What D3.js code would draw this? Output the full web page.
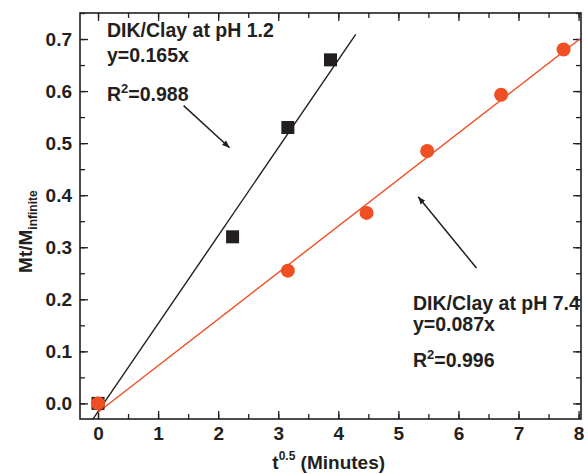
<!DOCTYPE html>
<meta charset="utf-8">
<script src="https://cdn.jsdelivr.net/npm/d3@7"></script>
<style>
    body { margin: 0; background: #fff; }
    text { font-family: "Liberation Sans", Arial, sans-serif; font-weight: bold; fill: #231f20; }
</style>
<div id="my_dataviz"></div>
<script>
    // data
    let acidX = [0, 2.24, 3.16, 3.87];
    let acidY = [0, 0.32, 0.53, 0.66];
    let neutralX = [0, 3.16, 4.47, 5.48, 6.71, 7.75];
    let neutralY = [0, 0.255, 0.366, 0.485, 0.593, 0.68];
    // fitted lines as drawn: [x start, x end], slope, intercept
    let acidFit = {x: [-0.085, 4.29], slope: 0.169, icpt: -0.016};
    let neutralFit = {x: [0.0, 8.02], slope: 0.0894, icpt: -0.017};
    let xTicks = [0, 1, 2, 3, 4, 5, 6, 7, 8];
    let yTicks = [0, 0.1, 0.2, 0.3, 0.4, 0.5, 0.6, 0.7];

    let margin = {top: 13, right: 7, bottom: 55, left: 80},
        width = 588 - margin.left - margin.right,
        height = 474 - margin.top - margin.bottom;

    let svg = d3.select("#my_dataviz").append("svg")
        .attr("width", 588)
        .attr("height", 474)
    ;

    let g = svg.append("g")
        .attr("transform", `translate(${margin.left},${margin.top})`)
    ;

    let xScale = d3.scaleLinear().domain([-0.3, 8.04]).range([0, width]);
    let yScale = d3.scaleLinear().domain([-0.03, 0.75]).range([height, 0]);

    const black = "#231f20", red = "#f04e23";

    // ticks, inward on all four sides
    const axisStyle = (sel) => {
        sel.select(".domain").remove();
        sel.selectAll("line").attr("stroke", black).attr("stroke-width", 1.3);
        sel.selectAll("text").style("font-size", "19px");
    };
    const xMinor = d3.range(0, 8.01, 0.5);
    const yMinor = d3.range(0, 0.751, 0.05);

    g.append("g").attr("transform", `translate(0,${height})`)
        .call(d3.axisBottom(xScale).tickValues(xMinor).tickSize(-5).tickFormat(""))
        .call(axisStyle);
    g.append("g").attr("transform", `translate(0,${height})`)
        .call(d3.axisBottom(xScale).tickValues(xTicks).tickSize(-8).tickPadding(8).tickFormat(d3.format("d")))
        .call(axisStyle);
    g.append("g")
        .call(d3.axisTop(xScale).tickValues(xMinor).tickSize(-5).tickFormat(""))
        .call(axisStyle);
    g.append("g")
        .call(d3.axisTop(xScale).tickValues(xTicks).tickSize(-8).tickFormat(""))
        .call(axisStyle);

    g.append("g")
        .call(d3.axisLeft(yScale).tickValues(yMinor).tickSize(-5).tickFormat(""))
        .call(axisStyle);
    g.append("g")
        .call(d3.axisLeft(yScale).tickValues(yTicks).tickSize(-8).tickPadding(8).tickFormat(d3.format(".1f")))
        .call(axisStyle);
    g.append("g").attr("transform", `translate(${width},0)`)
        .call(d3.axisRight(yScale).tickValues(yMinor).tickSize(-5).tickFormat(""))
        .call(axisStyle);
    g.append("g").attr("transform", `translate(${width},0)`)
        .call(d3.axisRight(yScale).tickValues(yTicks).tickSize(-8).tickFormat(""))
        .call(axisStyle);

    g.append("rect")
        .attr("width", width).attr("height", height)
        .attr("fill", "none").attr("stroke", black).attr("stroke-width", 1.6);

    // fit lines
    const fitLine = (f, color) => {
        g.append("line")
            .attr("x1", xScale(f.x[0])).attr("y1", yScale(f.slope * f.x[0] + f.icpt))
            .attr("x2", xScale(f.x[1])).attr("y2", yScale(f.slope * f.x[1] + f.icpt))
            .attr("stroke", color).attr("stroke-width", 1.4);
    };
    fitLine(acidFit, black);
    fitLine(neutralFit, red);

    // markers
    g.selectAll(".sq")
        .data(d3.zip(acidX, acidY))
        .enter()
        .append("rect")
        .attr("x", d => xScale(d[0]) - 6.5)
        .attr("y", d => yScale(d[1]) - 6.5)
        .attr("width", 13).attr("height", 13)
        .style("fill", black);

    g.selectAll(".dot")
        .data(d3.zip(neutralX, neutralY))
        .enter()
        .append("circle")
        .attr("cx", d => xScale(d[0]))
        .attr("cy", d => yScale(d[1]))
        .attr("r", 7)
        .style("fill", red);

    // arrows
    svg.append("defs").append("marker")
        .attr("id", "head")
        .attr("viewBox", "0 0 10 10")
        .attr("refX", 10).attr("refY", 5)
        .attr("markerWidth", 5).attr("markerHeight", 5)
        .attr("markerUnits", "strokeWidth")
        .attr("orient", "auto")
        .append("path").attr("d", "M0,1 L10,5 L0,9 Z").attr("fill", black);

    let arrows = [
        {from: [1.425, 0.572], to: [2.19, 0.491]},
        {from: [6.30, 0.260], to: [5.33, 0.397]}
    ];
    g.selectAll(".arrow")
        .data(arrows)
        .enter()
        .append("line")
        .attr("x1", d => xScale(d.from[0])).attr("y1", d => yScale(d.from[1]))
        .attr("x2", d => xScale(d.to[0])).attr("y2", d => yScale(d.to[1]))
        .attr("stroke", black).attr("stroke-width", 1.5)
        .attr("marker-end", "url(#head)");

    // annotation text
    const note = (x, y, parts) => {
        let t = svg.append("text").attr("x", x).attr("y", y).style("font-size", "19.5px");
        parts.forEach(p => {
            let s = t.append("tspan").text(p[0]);
            if (p[1] === "sup") s.attr("dy", -8).style("font-size", "13px");
            if (p[1] === "back") s.attr("dy", 8);
        });
        return t;
    };
    note(107, 37, [["DIK/Clay at pH 1.2"]]);
    note(107, 62, [["y=0.165x"]]);
    note(107, 101, [["R"], ["2", "sup"], ["=0.988", "back"]]);
    note(413, 310, [["DIK/Clay at pH 7.4"]]);
    note(413, 331, [["y=0.087x"]]);
    note(413, 367, [["R"], ["2", "sup"], ["=0.996", "back"]]);

    // axis titles
    let xt = svg.append("text")
        .attr("x", margin.left + xScale(3.84)).attr("y", 469)
        .attr("text-anchor", "middle").style("font-size", "19px");
    xt.append("tspan").text("t");
    xt.append("tspan").text("0.5").attr("dy", -9).style("font-size", "12px");
    xt.append("tspan").text(" (Minutes)").attr("dy", 9);

    let yt = svg.append("text")
        .attr("transform", `translate(32,${margin.top + yScale(0.33)}) rotate(-90)`)
        .attr("text-anchor", "middle").style("font-size", "19px");
    yt.append("tspan").text("Mt/M");
    yt.append("tspan").text("infinite").attr("dy", 5).style("font-size", "12px");
</script>
